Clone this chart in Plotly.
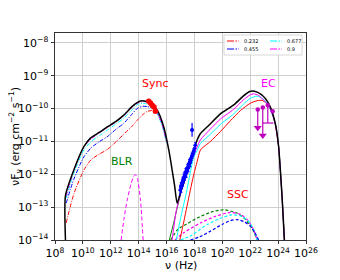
import numpy as np
import plotly.graph_objects as go

# ---- data (log10 values) ----
# total model (black)
tot_nu = [8.75, 8.75, 9.35, 10.07, 10.54, 11.2, 11.74, 12.4, 12.93, 13.5, 13.89, 14.13, 14.5, 14.85, 15.33, 15.8, 16.16, 16.4, 16.58, 16.76,
          17.0, 17.23, 17.59, 17.95, 18.2, 18.43, 19.15, 19.86, 20.82, 21.5, 21.96, 22.3, 22.73, 23.1, 23.45, 23.8, 24.04, 24.16, 24.3, 24.45]
tot_f = [-14.0, -12.65, -11.87, -11.16, -10.9, -10.72, -10.56, -10.38, -10.2, -9.95, -9.82, -9.77, -9.78, -9.85, -10.05, -10.56, -11.26, -11.87, -12.35, -12.88,
         -12.55, -12.27, -11.67, -11.26, -10.95, -10.76, -10.46, -10.16, -9.89, -9.62, -9.48, -9.47, -9.55, -9.7, -9.96, -10.46, -11.17, -11.87, -12.8, -14.0]

# synchrotron components (dash-dot)
sync_nu = [8.8, 9.35, 10.07, 10.6, 11.2, 11.74, 12.4, 12.93, 13.5, 13.89, 14.3, 14.6, 14.95, 15.3, 15.7, 16.0]
sync_cyan = [-12.72, -11.97, -11.26, -11.0, -10.82, -10.66, -10.46, -10.29, -10.05, -9.88, -9.84, -9.86, -9.93, -10.12, -10.55, -11.05]
sync_blue = [-12.88, -12.15, -11.47, -11.19, -11.0, -10.86, -10.62, -10.45, -10.18, -10.0, -9.93, -9.94, -9.98, -10.12, -10.5, -11.0]
sync_red = [-13.48, -12.6, -11.87, -11.55, -11.38, -11.25, -11.0, -10.78, -10.55, -10.36, -10.18, -10.09, -10.06, -10.13, -10.48, -10.98]
sync_mag = [-12.66, -11.88, -11.17, -10.92, -10.74, -10.58, -10.4, -10.22, -9.97, -9.84, -9.79, -9.8, -9.88, -10.08, -10.52, -11.02]

# EC components (solid)
ecm_nu = [16.4, 16.7, 17.0, 17.4, 17.8, 18.19, 18.43, 19.15, 19.86, 20.82, 21.5, 22.0, 22.25, 22.6, 23.0, 23.45, 23.8, 24.04, 24.16, 24.3, 24.45]
ecm_f = [-14.0, -13.1, -12.6, -12.05, -11.58, -11.17, -10.95, -10.62, -10.32, -10.02, -9.74, -9.58, -9.55, -9.6, -9.76, -10.02, -10.48, -11.17, -11.87, -12.8, -14.0]
ecc_nu = [16.7, 17.0, 17.4, 17.95, 18.19, 18.43, 19.15, 19.86, 20.82, 21.5, 22.0, 22.49, 22.9, 23.3, 23.6, 23.85, 24.04, 24.16, 24.3, 24.45]
ecc_f = [-14.0, -13.35, -12.6, -11.47, -11.28, -11.06, -10.78, -10.48, -10.16, -9.87, -9.69, -9.62, -9.7, -9.9, -10.2, -10.55, -11.17, -11.87, -12.8, -14.0]
ecr_nu = [16.95, 17.12, 17.5, 17.9, 18.2, 18.43, 19.15, 19.86, 20.58, 21.3, 22.0, 22.5, 22.85, 23.2, 23.5, 23.8, 24.04, 24.16, 24.3, 24.45]
ecr_f = [-14.0, -13.68, -12.9, -12.1, -11.6, -11.26, -11.0, -10.7, -10.37, -10.06, -9.84, -9.76, -9.75, -9.85, -10.05, -10.48, -11.17, -11.87, -12.8, -14.0]
ecg_nu = [16.2, 16.5, 16.8, 17.1, 17.5]
ecg_f = [-14.0, -13.5, -12.95, -12.45, -11.82]

# SSC components (dashed)
ssc_g_nu = [16.3, 16.8, 17.5, 18.2, 19.2, 20.1, 21.0, 21.6, 22.1, 22.5]
ssc_g_f = [-14.0, -13.68, -13.5, -13.33, -13.15, -13.08, -13.17, -13.35, -13.62, -14.0]
ssc_m_nu = [16.6, 17.23, 18.43, 19.5, 20.58, 21.3, 21.78, 22.2, 22.5]
ssc_m_f = [-14.0, -13.78, -13.48, -13.28, -13.16, -13.22, -13.38, -13.65, -14.0]
ssc_c_nu = [17.0, 17.71, 18.91, 19.8, 20.7, 21.4, 21.89, 22.25, 22.5]
ssc_c_f = [-14.0, -13.88, -13.53, -13.35, -13.23, -13.28, -13.43, -13.68, -14.0]
ssc_b_nu = [17.7, 18.4, 19.15, 20.0, 20.58, 21.06, 21.6, 22.0, 22.3, 22.6]
ssc_b_f = [-14.0, -13.9, -13.73, -13.52, -13.41, -13.38, -13.45, -13.58, -13.75, -14.0]

# BLR (dashed magenta)
blr_nu = [12.74, 12.95, 13.18, 13.45, 13.62, 13.77, 13.92, 14.13, 14.32]
blr_f = [-14.0, -13.35, -12.78, -12.3, -12.08, -12.01, -12.15, -12.78, -14.0]

# optical data (red)
opt_nu = [14.72, 14.85, 14.97, 15.1, 15.2]
opt_f = [-9.78, -9.83, -9.9, -9.95, -10.08]

# X-ray data (blue)
xr_nu = [16.97, 17.02, 17.06, 17.1, 17.14, 17.18, 17.22, 17.27, 17.31, 17.35, 17.4, 17.44, 17.49,
         17.53, 17.58, 17.62, 17.67, 17.71, 17.76, 17.8, 17.85, 17.9, 17.95, 18.0, 18.06]
xr_f = [-12.48, -12.38, -12.41, -12.27, -12.22, -12.25, -12.11, -12.06, -12.09, -11.95, -11.91, -11.96, -11.82,
        -11.77, -11.8, -11.66, -11.61, -11.65, -11.52, -11.47, -11.42, -11.36, -11.3, -11.22, -11.12]
xr_err = [0.15, 0.12, 0.14, 0.12, 0.13, 0.11, 0.12, 0.13, 0.1, 0.12, 0.11, 0.13, 0.12,
          0.1, 0.12, 0.11, 0.1, 0.12, 0.1, 0.11, 0.1, 0.1, 0.09, 0.1, 0.09]
xr1_nu = [17.83]
xr1_f = [-10.65]
xr1_err = [0.21]

# gamma-ray data (magenta)
gam_nu = [22.54, 22.9, 23.26, 23.61]
gam_f = [-10.03, -9.97, -9.9, -10.08]
gam_low = [-10.58, -10.82, -10.44, -10.08]
gam_ul = [True, True, False, False]

legend_labels = ["0.232", "0.455", "0.677", "0.9"]
legend_colors = ["#ff0000", "#0000ff", "#00ffff", "#ff00ff"]

xtick_exp = [8, 10, 12, 14, 16, 18, 20, 22, 24, 26]
ytick_exp = [-14, -13, -12, -11, -10, -9, -8]

x_title = "ν (Hz)"
y_title = "νF<sub>ν</sub> (erg cm<sup>\u22122</sup> s<sup>\u22121</sup>)"

P = lambda a: (10.0 ** np.asarray(a, dtype=float)).tolist()
FONT = "DejaVu Sans"
DD = "4px,1.5px,1px,1.5px"
DS = "3px,2px"

# page body has an 8px default margin; plot area lands at page x 55-306, y 33-240
L, T, W, H = 47, 25, 251, 207

fig = go.Figure()

def line(nu, f, color, width=1.0, dash="solid"):
    fig.add_trace(go.Scatter(x=P(nu), y=P(f), mode="lines", showlegend=False, hoverinfo="skip",
                             line=dict(color=color, width=width, dash=dash, shape="spline", smoothing=0.6)))

# SSC
line(ssc_g_nu, ssc_g_f, "#008000", 1.2, DS)
line(ssc_m_nu, ssc_m_f, "#ff00ff", 1.2, DS)
line(ssc_c_nu, ssc_c_f, "#00ffff", 1.2, DS)
line(ssc_b_nu, ssc_b_f, "#0000ff", 1.2, DS)
# BLR
line(blr_nu, blr_f, "#ff00ff", 1.0, "4px,2.5px")
# EC
line(ecg_nu, ecg_f, "#008000", 1.0)
line(ecr_nu, ecr_f, "#ff0000", 1.0)
line(ecc_nu, ecc_f, "#00ffff", 1.0)
line(ecm_nu, ecm_f, "#ff00ff", 1.0)
# sync
line(sync_nu, sync_red, "#ff0000", 1.0, DD)
line(sync_nu, sync_blue, "#0000ff", 1.0, DD)
line(sync_nu, sync_cyan, "#00ffff", 1.0, DD)
line(sync_nu, sync_mag, "#ff00ff", 1.0, DD)
# total
line(tot_nu, tot_f, "#000000", 1.5)

# X-ray data
xf = np.array(xr_f); xe = np.array(xr_err)
fig.add_trace(go.Scatter(x=P(xr_nu), y=P(xr_f), mode="markers", showlegend=False,
                         marker=dict(color="#0000ff", size=3.5),
                         error_y=dict(type="data", symmetric=False,
                                      array=(10**(xf + xe) - 10**xf).tolist(),
                                      arrayminus=(10**xf - 10**(xf - xe)).tolist(),
                                      color="#0000ff", thickness=1, width=1)))
x1f = np.array(xr1_f); x1e = np.array(xr1_err)
fig.add_trace(go.Scatter(x=P(xr1_nu), y=P(xr1_f), mode="markers", showlegend=False,
                         marker=dict(color="#0000ff", size=4),
                         error_y=dict(type="data", symmetric=False,
                                      array=(10**(x1f + x1e) - 10**x1f).tolist(),
                                      arrayminus=(10**x1f - 10**(x1f - x1e)).tolist(),
                                      color="#0000ff", thickness=1.2, width=0)))
# optical data
fig.add_trace(go.Scatter(x=P(opt_nu), y=P(opt_f), mode="markers", showlegend=False,
                         marker=dict(color="#ff0000", size=5.5)))

# gamma-ray data
gf = np.array(gam_f); gl = np.array(gam_low)
fig.add_trace(go.Scatter(x=P(gam_nu), y=P(gam_f), mode="markers", showlegend=False,
                         marker=dict(color="#bf00bf", size=4.5),
                         error_y=dict(type="data", symmetric=False,
                                      array=[0] * len(gam_f),
                                      arrayminus=(10**gf - 10**gl).tolist(),
                                      color="#bf00bf", thickness=1.2, width=0)))
ul_nu = [n for n, u in zip(gam_nu, gam_ul) if u]
ul_lo = [l for l, u in zip(gam_low, gam_ul) if u]
fig.add_trace(go.Scatter(x=P(ul_nu), y=P(ul_lo), mode="markers", showlegend=False,
                         marker=dict(color="#bf00bf", size=7, symbol="triangle-down")))
cap_nu = [n for n, u, l, f in zip(gam_nu, gam_ul, gam_low, gam_f) if (not u) and l < f]
cap_lo = [l for n, u, l, f in zip(gam_nu, gam_ul, gam_low, gam_f) if (not u) and l < f]
fig.add_trace(go.Scatter(x=P(cap_nu), y=P(cap_lo), mode="markers", showlegend=False,
                         marker=dict(color="#bf00bf", size=8, symbol="line-ew",
                                     line=dict(color="#bf00bf", width=1.2))))

# helpers: page pixel -> paper coords
px = lambda v: (v - 55) / W
py = lambda v: (240 - v) / H

def label(txt, xp, yp, color, size=11, angle=0):
    fig.add_annotation(text=txt, xref="paper", yref="paper", x=px(xp), y=py(yp),
                       showarrow=False, font=dict(family=FONT, size=size, color=color),
                       xanchor="center", yanchor="middle", textangle=angle)

label("Sync", 155, 83, "#ff0000")
label("EC", 268, 83, "#ff00ff")
label("BLR", 121.5, 161, "#008000")
label("SSC", 237.5, 194, "#ff0000")

# axis titles
label(x_title, 181, 265, "#000000")
label(y_title, 15, 137, "#000000", angle=-90)

# legend box
fig.add_shape(type="rect", xref="paper", yref="paper", x0=px(224), x1=px(302), y0=py(55), y1=py(35),
              line=dict(color="#d8d8d8", width=1), fillcolor="rgba(255,255,255,0.85)", layer="above")
pos = [(227, 41), (227, 49), (270, 41), (270, 49)]
for (lx, ly), lab, col in zip(pos, legend_labels, legend_colors):
    fig.add_shape(type="line", xref="paper", yref="paper", x0=px(lx), x1=px(lx + 12), y0=py(ly), y1=py(ly),
                  line=dict(color=col, width=1.2, dash="7px,1.5px,1.5px,1.5px"), layer="above")
    fig.add_annotation(text=lab, xref="paper", yref="paper", x=px(lx + 15), y=py(ly), showarrow=False,
                       xanchor="left", yanchor="middle", font=dict(family=FONT, size=5, color="#000000"))

fig.update_layout(
    width=340, height=280,
    margin=dict(l=L, r=340 - L - W, t=T, b=280 - T - H),
    paper_bgcolor="white", plot_bgcolor="white",
    font=dict(family=FONT, size=11, color="#000000"),
    showlegend=False,
)
fig.update_xaxes(type="log", range=[8, 26], automargin=False,
                 tickvals=P(xtick_exp), ticktext=[f"10<sup>{e}</sup>" for e in xtick_exp],
                 showgrid=True, gridcolor="#cfcfcf", gridwidth=1,
                 showline=True, linecolor="#333333", linewidth=1, mirror=True,
                 ticks="outside", ticklen=3, tickcolor="#333333",
                 tickfont=dict(family=FONT, size=11),
                 zeroline=False)
fig.update_yaxes(type="log", range=[-14, -7.7], automargin=False,
                 tickvals=P(ytick_exp), ticktext=[f"10<sup>\u2212{-e}</sup>" for e in ytick_exp],
                 showgrid=True, gridcolor="#cfcfcf", gridwidth=1,
                 showline=True, linecolor="#333333", linewidth=1, mirror=True,
                 ticks="outside", ticklen=3.5, tickcolor="#333333",
                 tickfont=dict(family=FONT, size=11),
                 zeroline=False)

fig.write_html("out.html")
